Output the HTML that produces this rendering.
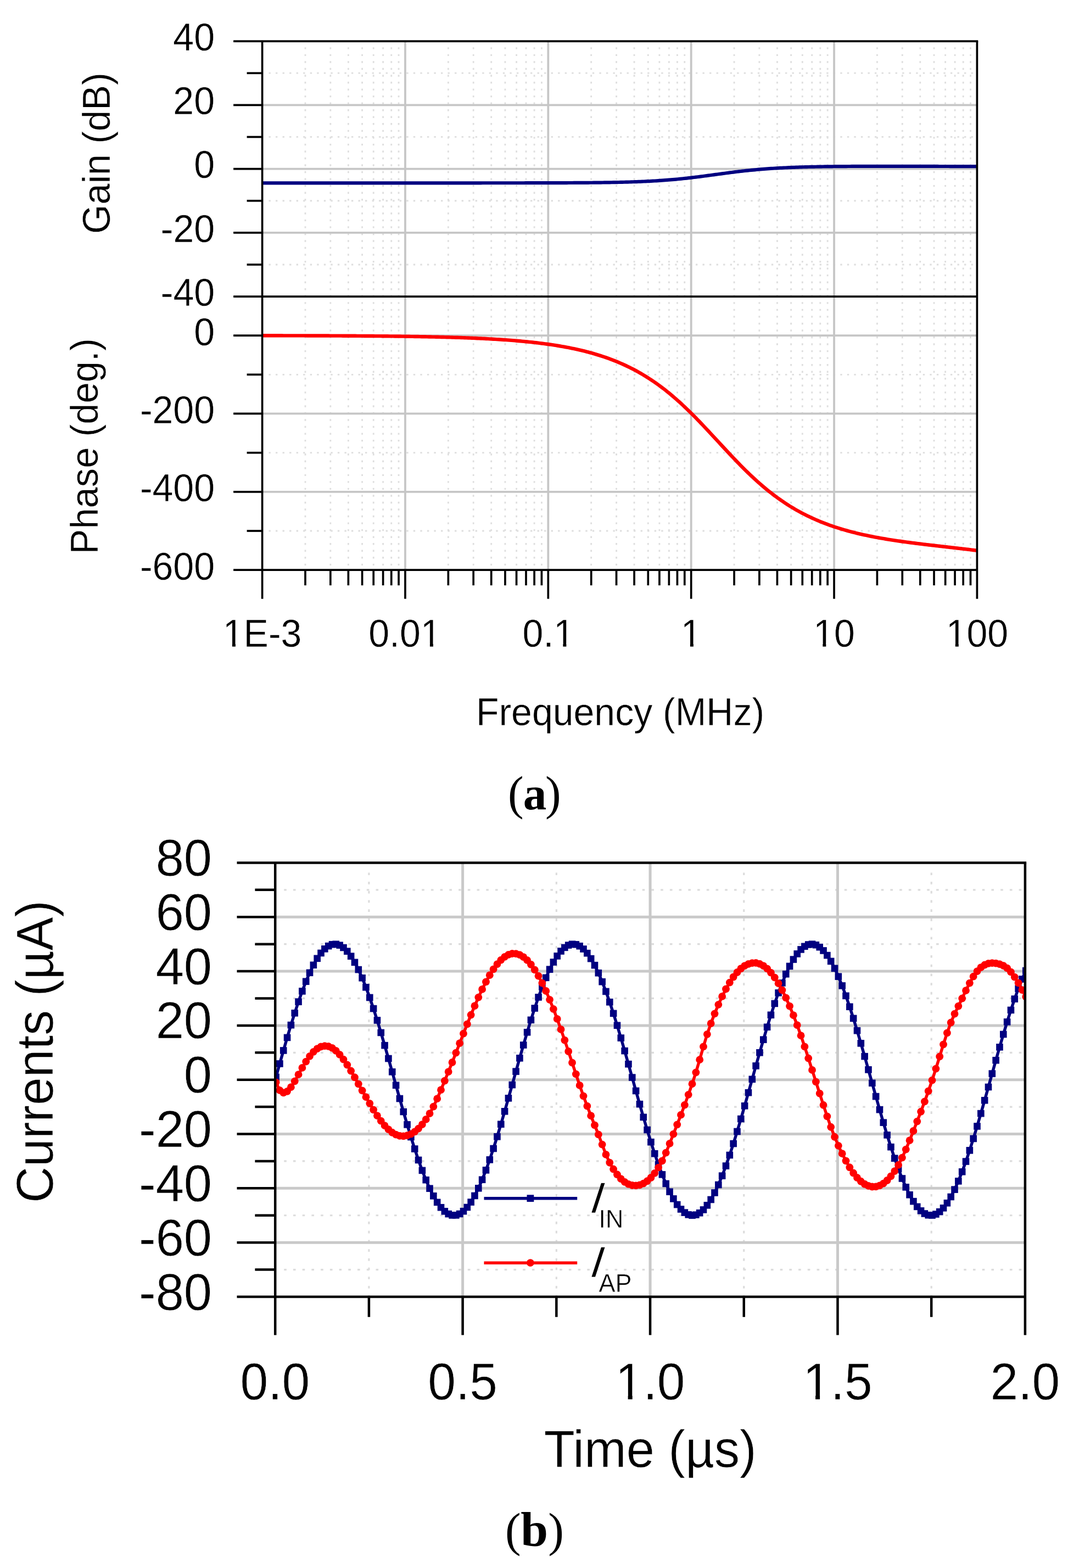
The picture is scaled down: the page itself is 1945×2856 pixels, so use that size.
<!DOCTYPE html>
<html lang="en">
<head>
<meta charset="utf-8">
<title>Figure: frequency response and transient currents</title>
<style>
html,body{margin:0;padding:0;background:#fff;}
body{width:1945px;height:2856px;overflow:hidden;}
svg{display:block;}
</style>
</head>
<body>
<svg width="1945" height="2856" viewBox="0 0 1945 2856">
<rect x="0" y="0" width="1945" height="2856" fill="#ffffff"/>
<g id="top">
<g stroke="#dedede" stroke-width="2.8" stroke-dasharray="3.4 9.14" fill="none">
<line x1="555.98" y1="86.15" x2="555.98" y2="1038.20"/>
<line x1="601.82" y1="86.15" x2="601.82" y2="1038.20"/>
<line x1="634.35" y1="86.15" x2="634.35" y2="1038.20"/>
<line x1="659.58" y1="86.15" x2="659.58" y2="1038.20"/>
<line x1="680.20" y1="86.15" x2="680.20" y2="1038.20"/>
<line x1="697.63" y1="86.15" x2="697.63" y2="1038.20"/>
<line x1="712.73" y1="86.15" x2="712.73" y2="1038.20"/>
<line x1="726.05" y1="86.15" x2="726.05" y2="1038.20"/>
<line x1="816.34" y1="86.15" x2="816.34" y2="1038.20"/>
<line x1="862.18" y1="86.15" x2="862.18" y2="1038.20"/>
<line x1="894.71" y1="86.15" x2="894.71" y2="1038.20"/>
<line x1="919.94" y1="86.15" x2="919.94" y2="1038.20"/>
<line x1="940.56" y1="86.15" x2="940.56" y2="1038.20"/>
<line x1="957.99" y1="86.15" x2="957.99" y2="1038.20"/>
<line x1="973.09" y1="86.15" x2="973.09" y2="1038.20"/>
<line x1="986.41" y1="86.15" x2="986.41" y2="1038.20"/>
<line x1="1076.70" y1="86.15" x2="1076.70" y2="1038.20"/>
<line x1="1122.54" y1="86.15" x2="1122.54" y2="1038.20"/>
<line x1="1155.07" y1="86.15" x2="1155.07" y2="1038.20"/>
<line x1="1180.30" y1="86.15" x2="1180.30" y2="1038.20"/>
<line x1="1200.92" y1="86.15" x2="1200.92" y2="1038.20"/>
<line x1="1218.35" y1="86.15" x2="1218.35" y2="1038.20"/>
<line x1="1233.45" y1="86.15" x2="1233.45" y2="1038.20"/>
<line x1="1246.77" y1="86.15" x2="1246.77" y2="1038.20"/>
<line x1="1337.06" y1="86.15" x2="1337.06" y2="1038.20"/>
<line x1="1382.90" y1="86.15" x2="1382.90" y2="1038.20"/>
<line x1="1415.43" y1="86.15" x2="1415.43" y2="1038.20"/>
<line x1="1440.66" y1="86.15" x2="1440.66" y2="1038.20"/>
<line x1="1461.28" y1="86.15" x2="1461.28" y2="1038.20"/>
<line x1="1478.71" y1="86.15" x2="1478.71" y2="1038.20"/>
<line x1="1493.81" y1="86.15" x2="1493.81" y2="1038.20"/>
<line x1="1507.13" y1="86.15" x2="1507.13" y2="1038.20"/>
<line x1="1597.42" y1="86.15" x2="1597.42" y2="1038.20"/>
<line x1="1643.26" y1="86.15" x2="1643.26" y2="1038.20"/>
<line x1="1675.79" y1="86.15" x2="1675.79" y2="1038.20"/>
<line x1="1701.02" y1="86.15" x2="1701.02" y2="1038.20"/>
<line x1="1721.64" y1="86.15" x2="1721.64" y2="1038.20"/>
<line x1="1739.07" y1="86.15" x2="1739.07" y2="1038.20"/>
<line x1="1754.17" y1="86.15" x2="1754.17" y2="1038.20"/>
<line x1="1767.49" y1="86.15" x2="1767.49" y2="1038.20"/>
<line x1="489.45" y1="133.22" x2="1779.40" y2="133.22"/>
<line x1="489.45" y1="249.47" x2="1779.40" y2="249.47"/>
<line x1="489.45" y1="365.73" x2="1779.40" y2="365.73"/>
<line x1="489.45" y1="481.98" x2="1779.40" y2="481.98"/>
<line x1="489.45" y1="682.28" x2="1779.40" y2="682.28"/>
<line x1="489.45" y1="824.65" x2="1779.40" y2="824.65"/>
<line x1="489.45" y1="967.02" x2="1779.40" y2="967.02"/>
</g>
<g stroke="#c6c6c6" stroke-width="3.8" fill="none">
<line x1="737.96" y1="75.10" x2="737.96" y2="1038.20"/>
<line x1="998.32" y1="75.10" x2="998.32" y2="1038.20"/>
<line x1="1258.68" y1="75.10" x2="1258.68" y2="1038.20"/>
<line x1="1519.04" y1="75.10" x2="1519.04" y2="1038.20"/>
<line x1="477.60" y1="191.35" x2="1779.40" y2="191.35"/>
<line x1="477.60" y1="307.60" x2="1779.40" y2="307.60"/>
<line x1="477.60" y1="423.85" x2="1779.40" y2="423.85"/>
<line x1="477.60" y1="611.10" x2="1779.40" y2="611.10"/>
<line x1="477.60" y1="753.47" x2="1779.40" y2="753.47"/>
<line x1="477.60" y1="895.83" x2="1779.40" y2="895.83"/>
</g>
<polyline points="477.60,333.29 480.86,333.29 484.13,333.29 487.39,333.29 490.65,333.29 493.91,333.29 497.18,333.29 500.44,333.29 503.70,333.29 506.96,333.29 510.23,333.29 513.49,333.29 516.75,333.29 520.01,333.29 523.28,333.29 526.54,333.29 529.80,333.29 533.07,333.29 536.33,333.29 539.59,333.29 542.85,333.29 546.12,333.29 549.38,333.29 552.64,333.29 555.90,333.29 559.17,333.29 562.43,333.29 565.69,333.29 568.95,333.29 572.22,333.29 575.48,333.29 578.74,333.29 582.01,333.29 585.27,333.29 588.53,333.29 591.79,333.29 595.06,333.29 598.32,333.29 601.58,333.29 604.84,333.29 608.11,333.29 611.37,333.29 614.63,333.29 617.89,333.29 621.16,333.29 624.42,333.29 627.68,333.29 630.94,333.29 634.21,333.29 637.47,333.29 640.73,333.29 644.00,333.29 647.26,333.29 650.52,333.29 653.78,333.29 657.05,333.29 660.31,333.29 663.57,333.29 666.83,333.29 670.10,333.29 673.36,333.29 676.62,333.29 679.88,333.29 683.15,333.29 686.41,333.29 689.67,333.29 692.94,333.29 696.20,333.29 699.46,333.29 702.72,333.29 705.99,333.29 709.25,333.29 712.51,333.29 715.77,333.29 719.04,333.29 722.30,333.29 725.56,333.29 728.82,333.29 732.09,333.29 735.35,333.29 738.61,333.29 741.88,333.29 745.14,333.29 748.40,333.29 751.66,333.29 754.93,333.29 758.19,333.29 761.45,333.29 764.71,333.29 767.98,333.29 771.24,333.29 774.50,333.29 777.76,333.29 781.03,333.29 784.29,333.29 787.55,333.29 790.82,333.29 794.08,333.29 797.34,333.29 800.60,333.29 803.87,333.29 807.13,333.29 810.39,333.29 813.65,333.29 816.92,333.29 820.18,333.29 823.44,333.28 826.70,333.28 829.97,333.28 833.23,333.28 836.49,333.28 839.75,333.28 843.02,333.28 846.28,333.28 849.54,333.28 852.81,333.28 856.07,333.28 859.33,333.28 862.59,333.28 865.86,333.28 869.12,333.28 872.38,333.28 875.64,333.28 878.91,333.27 882.17,333.27 885.43,333.27 888.69,333.27 891.96,333.27 895.22,333.27 898.48,333.27 901.75,333.27 905.01,333.26 908.27,333.26 911.53,333.26 914.80,333.26 918.06,333.26 921.32,333.26 924.58,333.25 927.85,333.25 931.11,333.25 934.37,333.25 937.63,333.24 940.90,333.24 944.16,333.24 947.42,333.23 950.69,333.23 953.95,333.23 957.21,333.22 960.47,333.22 963.74,333.22 967.00,333.21 970.26,333.21 973.52,333.20 976.79,333.20 980.05,333.19 983.31,333.18 986.57,333.18 989.84,333.17 993.10,333.16 996.36,333.16 999.63,333.15 1002.89,333.14 1006.15,333.13 1009.41,333.12 1012.68,333.11 1015.94,333.10 1019.20,333.09 1022.46,333.08 1025.73,333.06 1028.99,333.05 1032.25,333.04 1035.51,333.02 1038.78,333.01 1042.04,332.99 1045.30,332.97 1048.56,332.95 1051.83,332.93 1055.09,332.91 1058.35,332.89 1061.62,332.87 1064.88,332.84 1068.14,332.82 1071.40,332.79 1074.67,332.76 1077.93,332.73 1081.19,332.70 1084.45,332.66 1087.72,332.62 1090.98,332.58 1094.24,332.54 1097.50,332.50 1100.77,332.46 1104.03,332.41 1107.29,332.36 1110.56,332.30 1113.82,332.25 1117.08,332.19 1120.34,332.12 1123.61,332.06 1126.87,331.99 1130.13,331.91 1133.39,331.83 1136.66,331.75 1139.92,331.66 1143.18,331.57 1146.44,331.48 1149.71,331.38 1152.97,331.27 1156.23,331.16 1159.50,331.04 1162.76,330.92 1166.02,330.79 1169.28,330.65 1172.55,330.51 1175.81,330.36 1179.07,330.20 1182.33,330.04 1185.60,329.87 1188.86,329.69 1192.12,329.50 1195.38,329.30 1198.65,329.10 1201.91,328.89 1205.17,328.66 1208.44,328.43 1211.70,328.19 1214.96,327.94 1218.22,327.68 1221.49,327.41 1224.75,327.13 1228.01,326.84 1231.27,326.54 1234.54,326.23 1237.80,325.92 1241.06,325.59 1244.32,325.25 1247.59,324.90 1250.85,324.55 1254.11,324.18 1257.37,323.81 1260.64,323.42 1263.90,323.03 1267.16,322.63 1270.43,322.23 1273.69,321.82 1276.95,321.40 1280.21,320.98 1283.48,320.55 1286.74,320.11 1290.00,319.68 1293.26,319.24 1296.53,318.80 1299.79,318.36 1303.05,317.91 1306.31,317.47 1309.58,317.03 1312.84,316.58 1316.10,316.15 1319.37,315.71 1322.63,315.28 1325.89,314.85 1329.15,314.43 1332.42,314.01 1335.68,313.60 1338.94,313.19 1342.20,312.79 1345.47,312.40 1348.73,312.02 1351.99,311.65 1355.25,311.28 1358.52,310.92 1361.78,310.58 1365.04,310.24 1368.31,309.91 1371.57,309.59 1374.83,309.29 1378.09,308.99 1381.36,308.70 1384.62,308.42 1387.88,308.15 1391.14,307.89 1394.41,307.64 1397.67,307.40 1400.93,307.17 1404.19,306.95 1407.46,306.73 1410.72,306.53 1413.98,306.33 1417.25,306.15 1420.51,305.97 1423.77,305.80 1427.03,305.63 1430.30,305.48 1433.56,305.33 1436.82,305.19 1440.08,305.05 1443.35,304.92 1446.61,304.80 1449.87,304.68 1453.13,304.57 1456.40,304.47 1459.66,304.37 1462.92,304.27 1466.18,304.18 1469.45,304.09 1472.71,304.01 1475.97,303.93 1479.24,303.86 1482.50,303.79 1485.76,303.73 1489.02,303.66 1492.29,303.61 1495.55,303.55 1498.81,303.50 1502.07,303.45 1505.34,303.40 1508.60,303.36 1511.86,303.31 1515.12,303.28 1518.39,303.24 1521.65,303.20 1524.91,303.17 1528.18,303.14 1531.44,303.11 1534.70,303.08 1537.96,303.06 1541.23,303.03 1544.49,303.01 1547.75,302.99 1551.01,302.97 1554.28,302.95 1557.54,302.94 1560.80,302.92 1564.06,302.91 1567.33,302.89 1570.59,302.88 1573.85,302.87 1577.12,302.86 1580.38,302.85 1583.64,302.84 1586.90,302.83 1590.17,302.83 1593.43,302.82 1596.69,302.82 1599.95,302.81 1603.22,302.81 1606.48,302.81 1609.74,302.80 1613.00,302.80 1616.27,302.80 1619.53,302.80 1622.79,302.80 1626.06,302.80 1629.32,302.80 1632.58,302.81 1635.84,302.81 1639.11,302.81 1642.37,302.82 1645.63,302.82 1648.89,302.83 1652.16,302.83 1655.42,302.84 1658.68,302.84 1661.94,302.85 1665.21,302.86 1668.47,302.86 1671.73,302.87 1674.99,302.88 1678.26,302.89 1681.52,302.89 1684.78,302.90 1688.05,302.91 1691.31,302.92 1694.57,302.93 1697.83,302.94 1701.10,302.95 1704.36,302.96 1707.62,302.97 1710.88,302.98 1714.15,302.99 1717.41,303.00 1720.67,303.00 1723.93,303.01 1727.20,303.02 1730.46,303.03 1733.72,303.04 1736.99,303.05 1740.25,303.06 1743.51,303.07 1746.77,303.08 1750.04,303.09 1753.30,303.09 1756.56,303.10 1759.82,303.11 1763.09,303.12 1766.35,303.13 1769.61,303.13 1772.87,303.14 1776.14,303.15 1779.40,303.15" fill="none" stroke="#000080" stroke-width="6.2" stroke-linejoin="round"/>
<polyline points="477.60,611.26 480.86,611.26 484.13,611.27 487.39,611.27 490.65,611.28 493.91,611.28 497.18,611.29 500.44,611.30 503.70,611.30 506.96,611.31 510.23,611.31 513.49,611.32 516.75,611.33 520.01,611.33 523.28,611.34 526.54,611.35 529.80,611.35 533.07,611.36 536.33,611.37 539.59,611.38 542.85,611.38 546.12,611.39 549.38,611.40 552.64,611.41 555.90,611.42 559.17,611.43 562.43,611.44 565.69,611.45 568.95,611.46 572.22,611.47 575.48,611.48 578.74,611.49 582.01,611.50 585.27,611.51 588.53,611.53 591.79,611.54 595.06,611.55 598.32,611.56 601.58,611.58 604.84,611.59 608.11,611.61 611.37,611.62 614.63,611.64 617.89,611.65 621.16,611.67 624.42,611.68 627.68,611.70 630.94,611.72 634.21,611.74 637.47,611.76 640.73,611.78 644.00,611.80 647.26,611.82 650.52,611.84 653.78,611.86 657.05,611.88 660.31,611.90 663.57,611.93 666.83,611.95 670.10,611.98 673.36,612.00 676.62,612.03 679.88,612.06 683.15,612.08 686.41,612.11 689.67,612.14 692.94,612.17 696.20,612.20 699.46,612.24 702.72,612.27 705.99,612.30 709.25,612.34 712.51,612.37 715.77,612.41 719.04,612.45 722.30,612.49 725.56,612.53 728.82,612.57 732.09,612.62 735.35,612.66 738.61,612.71 741.88,612.75 745.14,612.80 748.40,612.85 751.66,612.90 754.93,612.95 758.19,613.01 761.45,613.06 764.71,613.12 767.98,613.18 771.24,613.24 774.50,613.31 777.76,613.37 781.03,613.44 784.29,613.50 787.55,613.58 790.82,613.65 794.08,613.72 797.34,613.80 800.60,613.88 803.87,613.96 807.13,614.04 810.39,614.13 813.65,614.22 816.92,614.31 820.18,614.40 823.44,614.50 826.70,614.60 829.97,614.70 833.23,614.81 836.49,614.92 839.75,615.03 843.02,615.14 846.28,615.26 849.54,615.38 852.81,615.51 856.07,615.64 859.33,615.77 862.59,615.91 865.86,616.05 869.12,616.19 872.38,616.34 875.64,616.49 878.91,616.65 882.17,616.81 885.43,616.98 888.69,617.15 891.96,617.33 895.22,617.51 898.48,617.70 901.75,617.89 905.01,618.09 908.27,618.30 911.53,618.51 914.80,618.72 918.06,618.95 921.32,619.18 924.58,619.41 927.85,619.66 931.11,619.91 934.37,620.16 937.63,620.43 940.90,620.70 944.16,620.98 947.42,621.27 950.69,621.57 953.95,621.88 957.21,622.19 960.47,622.51 963.74,622.85 967.00,623.19 970.26,623.54 973.52,623.91 976.79,624.28 980.05,624.67 983.31,625.06 986.57,625.47 989.84,625.89 993.10,626.32 996.36,626.77 999.63,627.23 1002.89,627.70 1006.15,628.18 1009.41,628.68 1012.68,629.19 1015.94,629.72 1019.20,630.26 1022.46,630.82 1025.73,631.40 1028.99,631.99 1032.25,632.60 1035.51,633.22 1038.78,633.87 1042.04,634.53 1045.30,635.21 1048.56,635.91 1051.83,636.63 1055.09,637.37 1058.35,638.14 1061.62,638.92 1064.88,639.73 1068.14,640.56 1071.40,641.41 1074.67,642.29 1077.93,643.19 1081.19,644.12 1084.45,645.08 1087.72,646.06 1090.98,647.07 1094.24,648.10 1097.50,649.17 1100.77,650.26 1104.03,651.39 1107.29,652.55 1110.56,653.74 1113.82,654.96 1117.08,656.22 1120.34,657.51 1123.61,658.83 1126.87,660.19 1130.13,661.59 1133.39,663.02 1136.66,664.50 1139.92,666.01 1143.18,667.56 1146.44,669.15 1149.71,670.79 1152.97,672.46 1156.23,674.18 1159.50,675.94 1162.76,677.75 1166.02,679.60 1169.28,681.50 1172.55,683.45 1175.81,685.44 1179.07,687.48 1182.33,689.57 1185.60,691.70 1188.86,693.89 1192.12,696.13 1195.38,698.41 1198.65,700.75 1201.91,703.14 1205.17,705.57 1208.44,708.06 1211.70,710.60 1214.96,713.19 1218.22,715.84 1221.49,718.53 1224.75,721.27 1228.01,724.06 1231.27,726.90 1234.54,729.79 1237.80,732.73 1241.06,735.71 1244.32,738.74 1247.59,741.82 1250.85,744.94 1254.11,748.09 1257.37,751.29 1260.64,754.53 1263.90,757.80 1267.16,761.11 1270.43,764.45 1273.69,767.82 1276.95,771.22 1280.21,774.65 1283.48,778.10 1286.74,781.57 1290.00,785.05 1293.26,788.56 1296.53,792.07 1299.79,795.59 1303.05,799.13 1306.31,802.66 1309.58,806.19 1312.84,809.73 1316.10,813.26 1319.37,816.78 1322.63,820.29 1325.89,823.78 1329.15,827.26 1332.42,830.72 1335.68,834.16 1338.94,837.57 1342.20,840.96 1345.47,844.32 1348.73,847.65 1351.99,850.94 1355.25,854.20 1358.52,857.42 1361.78,860.60 1365.04,863.74 1368.31,866.84 1371.57,869.90 1374.83,872.91 1378.09,875.88 1381.36,878.79 1384.62,881.67 1387.88,884.49 1391.14,887.26 1394.41,889.98 1397.67,892.66 1400.93,895.28 1404.19,897.85 1407.46,900.38 1410.72,902.85 1413.98,905.27 1417.25,907.64 1420.51,909.96 1423.77,912.23 1427.03,914.45 1430.30,916.63 1433.56,918.75 1436.82,920.83 1440.08,922.85 1443.35,924.84 1446.61,926.77 1449.87,928.66 1453.13,930.50 1456.40,932.30 1459.66,934.06 1462.92,935.78 1466.18,937.45 1469.45,939.08 1472.71,940.67 1475.97,942.22 1479.24,943.73 1482.50,945.21 1485.76,946.64 1489.02,948.04 1492.29,949.41 1495.55,950.74 1498.81,952.04 1502.07,953.30 1505.34,954.53 1508.60,955.74 1511.86,956.90 1515.12,958.04 1518.39,959.16 1521.65,960.24 1524.91,961.29 1528.18,962.32 1531.44,963.32 1534.70,964.30 1537.96,965.25 1541.23,966.18 1544.49,967.08 1547.75,967.97 1551.01,968.83 1554.28,969.66 1557.54,970.48 1560.80,971.28 1564.06,972.06 1567.33,972.82 1570.59,973.56 1573.85,974.28 1577.12,974.98 1580.38,975.67 1583.64,976.35 1586.90,977.00 1590.17,977.65 1593.43,978.27 1596.69,978.89 1599.95,979.49 1603.22,980.07 1606.48,980.65 1609.74,981.21 1613.00,981.76 1616.27,982.30 1619.53,982.83 1622.79,983.34 1626.06,983.85 1629.32,984.35 1632.58,984.84 1635.84,985.32 1639.11,985.79 1642.37,986.25 1645.63,986.71 1648.89,987.16 1652.16,987.60 1655.42,988.03 1658.68,988.46 1661.94,988.89 1665.21,989.30 1668.47,989.72 1671.73,990.12 1674.99,990.53 1678.26,990.92 1681.52,991.32 1684.78,991.71 1688.05,992.10 1691.31,992.48 1694.57,992.86 1697.83,993.24 1701.10,993.62 1704.36,994.00 1707.62,994.37 1710.88,994.75 1714.15,995.12 1717.41,995.49 1720.67,995.86 1723.93,996.23 1727.20,996.60 1730.46,996.98 1733.72,997.35 1736.99,997.72 1740.25,998.10 1743.51,998.47 1746.77,998.85 1750.04,999.23 1753.30,999.61 1756.56,1000.00 1759.82,1000.39 1763.09,1000.78 1766.35,1001.17 1769.61,1001.57 1772.87,1001.97 1776.14,1002.38 1779.40,1002.79" fill="none" stroke="#ff0000" stroke-width="6.4" stroke-linejoin="round"/>
<g stroke="#000" stroke-width="3.7" fill="none" stroke-linecap="butt">
<line x1="425.10" y1="75.1" x2="1781.25" y2="75.1"/>
<line x1="425.10" y1="540.1" x2="1779.40" y2="540.1"/>
<line x1="425.10" y1="1038.2" x2="1779.40" y2="1038.2"/>
<line x1="477.6" y1="75.1" x2="477.6" y2="1090.70"/>
<line x1="1779.4" y1="75.1" x2="1779.4" y2="1090.70"/>
<line x1="425.10" y1="191.35" x2="477.6" y2="191.35"/>
<line x1="425.10" y1="307.60" x2="477.6" y2="307.60"/>
<line x1="425.10" y1="423.85" x2="477.6" y2="423.85"/>
<line x1="449.60" y1="133.22" x2="477.6" y2="133.22"/>
<line x1="449.60" y1="249.47" x2="477.6" y2="249.47"/>
<line x1="449.60" y1="365.73" x2="477.6" y2="365.73"/>
<line x1="449.60" y1="481.98" x2="477.6" y2="481.98"/>
<line x1="425.10" y1="611.10" x2="477.6" y2="611.10"/>
<line x1="425.10" y1="753.47" x2="477.6" y2="753.47"/>
<line x1="425.10" y1="895.83" x2="477.6" y2="895.83"/>
<line x1="449.60" y1="682.28" x2="477.6" y2="682.28"/>
<line x1="449.60" y1="824.65" x2="477.6" y2="824.65"/>
<line x1="449.60" y1="967.02" x2="477.6" y2="967.02"/>
<line x1="737.96" y1="1038.2" x2="737.96" y2="1090.70"/>
<line x1="998.32" y1="1038.2" x2="998.32" y2="1090.70"/>
<line x1="1258.68" y1="1038.2" x2="1258.68" y2="1090.70"/>
<line x1="1519.04" y1="1038.2" x2="1519.04" y2="1090.70"/>
<line x1="555.98" y1="1038.2" x2="555.98" y2="1066.20"/>
<line x1="601.82" y1="1038.2" x2="601.82" y2="1066.20"/>
<line x1="634.35" y1="1038.2" x2="634.35" y2="1066.20"/>
<line x1="659.58" y1="1038.2" x2="659.58" y2="1066.20"/>
<line x1="680.20" y1="1038.2" x2="680.20" y2="1066.20"/>
<line x1="697.63" y1="1038.2" x2="697.63" y2="1066.20"/>
<line x1="712.73" y1="1038.2" x2="712.73" y2="1066.20"/>
<line x1="726.05" y1="1038.2" x2="726.05" y2="1066.20"/>
<line x1="816.34" y1="1038.2" x2="816.34" y2="1066.20"/>
<line x1="862.18" y1="1038.2" x2="862.18" y2="1066.20"/>
<line x1="894.71" y1="1038.2" x2="894.71" y2="1066.20"/>
<line x1="919.94" y1="1038.2" x2="919.94" y2="1066.20"/>
<line x1="940.56" y1="1038.2" x2="940.56" y2="1066.20"/>
<line x1="957.99" y1="1038.2" x2="957.99" y2="1066.20"/>
<line x1="973.09" y1="1038.2" x2="973.09" y2="1066.20"/>
<line x1="986.41" y1="1038.2" x2="986.41" y2="1066.20"/>
<line x1="1076.70" y1="1038.2" x2="1076.70" y2="1066.20"/>
<line x1="1122.54" y1="1038.2" x2="1122.54" y2="1066.20"/>
<line x1="1155.07" y1="1038.2" x2="1155.07" y2="1066.20"/>
<line x1="1180.30" y1="1038.2" x2="1180.30" y2="1066.20"/>
<line x1="1200.92" y1="1038.2" x2="1200.92" y2="1066.20"/>
<line x1="1218.35" y1="1038.2" x2="1218.35" y2="1066.20"/>
<line x1="1233.45" y1="1038.2" x2="1233.45" y2="1066.20"/>
<line x1="1246.77" y1="1038.2" x2="1246.77" y2="1066.20"/>
<line x1="1337.06" y1="1038.2" x2="1337.06" y2="1066.20"/>
<line x1="1382.90" y1="1038.2" x2="1382.90" y2="1066.20"/>
<line x1="1415.43" y1="1038.2" x2="1415.43" y2="1066.20"/>
<line x1="1440.66" y1="1038.2" x2="1440.66" y2="1066.20"/>
<line x1="1461.28" y1="1038.2" x2="1461.28" y2="1066.20"/>
<line x1="1478.71" y1="1038.2" x2="1478.71" y2="1066.20"/>
<line x1="1493.81" y1="1038.2" x2="1493.81" y2="1066.20"/>
<line x1="1507.13" y1="1038.2" x2="1507.13" y2="1066.20"/>
<line x1="1597.42" y1="1038.2" x2="1597.42" y2="1066.20"/>
<line x1="1643.26" y1="1038.2" x2="1643.26" y2="1066.20"/>
<line x1="1675.79" y1="1038.2" x2="1675.79" y2="1066.20"/>
<line x1="1701.02" y1="1038.2" x2="1701.02" y2="1066.20"/>
<line x1="1721.64" y1="1038.2" x2="1721.64" y2="1066.20"/>
<line x1="1739.07" y1="1038.2" x2="1739.07" y2="1066.20"/>
<line x1="1754.17" y1="1038.2" x2="1754.17" y2="1066.20"/>
<line x1="1767.49" y1="1038.2" x2="1767.49" y2="1066.20"/>
</g>
<g font-family='"Liberation Sans", Arial, Helvetica, sans-serif' font-size="68" fill="#000">
<text transform="translate(391.00,91.90) scale(1.0,1.03)" text-anchor="end" font-size="68" stroke="#fff" stroke-width="0.4" stroke-linejoin="round">40</text>
<text transform="translate(391.00,208.15) scale(1.0,1.03)" text-anchor="end" font-size="68" stroke="#fff" stroke-width="0.4" stroke-linejoin="round">20</text>
<text transform="translate(391.00,324.40) scale(1.0,1.03)" text-anchor="end" font-size="68" stroke="#fff" stroke-width="0.4" stroke-linejoin="round">0</text>
<text transform="translate(391.00,440.65) scale(1.0,1.03)" text-anchor="end" font-size="68" stroke="#fff" stroke-width="0.4" stroke-linejoin="round">-20</text>
<text transform="translate(391.00,556.90) scale(1.0,1.03)" text-anchor="end" font-size="68" stroke="#fff" stroke-width="0.4" stroke-linejoin="round">-40</text>
<text transform="translate(391.00,628.50) scale(1.0,1.03)" text-anchor="end" font-size="68" stroke="#fff" stroke-width="0.4" stroke-linejoin="round">0</text>
<text transform="translate(391.00,770.87) scale(1.0,1.03)" text-anchor="end" font-size="68" stroke="#fff" stroke-width="0.4" stroke-linejoin="round">-200</text>
<text transform="translate(391.00,913.23) scale(1.0,1.03)" text-anchor="end" font-size="68" stroke="#fff" stroke-width="0.4" stroke-linejoin="round">-400</text>
<text transform="translate(391.00,1055.60) scale(1.0,1.03)" text-anchor="end" font-size="68" stroke="#fff" stroke-width="0.4" stroke-linejoin="round">-600</text>
<g transform="translate(477.60,1177.50) scale(1.0,1.03)">
<text text-anchor="middle" font-size="68" stroke="#fff" stroke-width="0.4" stroke-linejoin="round">1E-3</text>
<rect x="-67.83" y="-5.64" width="13.12" height="6.31" fill="#fff"/>
<rect x="-48.71" y="-5.64" width="12.58" height="6.31" fill="#fff"/>
</g>
<g transform="translate(737.46,1177.50) scale(1.0,1.03)">
<text text-anchor="middle" font-size="68" stroke="#fff" stroke-width="0.4" stroke-linejoin="round">0.01</text>
<rect x="32.34" y="-5.64" width="13.12" height="6.31" fill="#fff"/>
<rect x="51.46" y="-5.64" width="12.58" height="6.31" fill="#fff"/>
</g>
<g transform="translate(998.82,1177.50) scale(1.0,1.03)">
<text text-anchor="middle" font-size="68" stroke="#fff" stroke-width="0.4" stroke-linejoin="round">0.1</text>
<rect x="13.43" y="-5.64" width="13.12" height="6.31" fill="#fff"/>
<rect x="32.56" y="-5.64" width="12.58" height="6.31" fill="#fff"/>
</g>
<g transform="translate(1258.68,1177.50) scale(1.0,1.03)">
<text text-anchor="middle" font-size="68" stroke="#fff" stroke-width="0.4" stroke-linejoin="round">1</text>
<rect x="-14.92" y="-5.64" width="13.12" height="6.31" fill="#fff"/>
<rect x="4.20" y="-5.64" width="12.58" height="6.31" fill="#fff"/>
</g>
<g transform="translate(1519.04,1177.50) scale(1.0,1.03)">
<text text-anchor="middle" font-size="68" stroke="#fff" stroke-width="0.4" stroke-linejoin="round">10</text>
<rect x="-33.83" y="-5.64" width="13.12" height="6.31" fill="#fff"/>
<rect x="-14.71" y="-5.64" width="12.58" height="6.31" fill="#fff"/>
</g>
<g transform="translate(1779.40,1177.50) scale(1.0,1.03)">
<text text-anchor="middle" font-size="68" stroke="#fff" stroke-width="0.4" stroke-linejoin="round">100</text>
<rect x="-52.74" y="-5.64" width="13.12" height="6.31" fill="#fff"/>
<rect x="-33.62" y="-5.64" width="12.58" height="6.31" fill="#fff"/>
</g>
<text transform="translate(1129.50,1320.80) scale(1.0,1.03)" text-anchor="middle" font-size="68" stroke="#fff" stroke-width="0.4" stroke-linejoin="round">Frequency (MHz)</text>
<text transform="translate(199.50,279.00) rotate(-90) scale(1.01,1.03)" text-anchor="middle" font-size="68" stroke="#fff" stroke-width="0.4" stroke-linejoin="round">Gain (dB)</text>
<text transform="translate(178.00,812.80) rotate(-90) scale(1.01,1.03)" text-anchor="middle" font-size="68" stroke="#fff" stroke-width="0.4" stroke-linejoin="round">Phase (deg.)</text>
</g>
</g>
<text y="1473.7" font-family='"Liberation Serif", "DejaVu Serif", serif' font-size="86" fill="#000"><tspan x="925.1">(</tspan><tspan x="952.8" font-size="85" font-weight="bold">a</tspan><tspan x="993.1">)</tspan></text>
<g id="bottom">
<g stroke="#dcdcdc" stroke-width="3.2" stroke-dasharray="4.6 12.13" fill="none">
<line x1="671.91" y1="1589.38" x2="671.91" y2="2362.00"/>
<line x1="1013.34" y1="1589.38" x2="1013.34" y2="2362.00"/>
<line x1="1354.76" y1="1589.38" x2="1354.76" y2="2362.00"/>
<line x1="1696.19" y1="1589.38" x2="1696.19" y2="2362.00"/>
<line x1="517.21" y1="2312.59" x2="1866.90" y2="2312.59"/>
<line x1="517.21" y1="2213.76" x2="1866.90" y2="2213.76"/>
<line x1="517.21" y1="2114.94" x2="1866.90" y2="2114.94"/>
<line x1="517.21" y1="2016.11" x2="1866.90" y2="2016.11"/>
<line x1="517.21" y1="1917.29" x2="1866.90" y2="1917.29"/>
<line x1="517.21" y1="1818.46" x2="1866.90" y2="1818.46"/>
<line x1="517.21" y1="1719.64" x2="1866.90" y2="1719.64"/>
<line x1="517.21" y1="1620.81" x2="1866.90" y2="1620.81"/>
</g>
<g stroke="#c9c9c9" stroke-width="5.0" fill="none">
<line x1="842.62" y1="1571.40" x2="842.62" y2="2362.00"/>
<line x1="1184.05" y1="1571.40" x2="1184.05" y2="2362.00"/>
<line x1="1525.48" y1="1571.40" x2="1525.48" y2="2362.00"/>
<line x1="501.20" y1="2263.18" x2="1866.90" y2="2263.18"/>
<line x1="501.20" y1="2164.35" x2="1866.90" y2="2164.35"/>
<line x1="501.20" y1="2065.53" x2="1866.90" y2="2065.53"/>
<line x1="501.20" y1="1966.70" x2="1866.90" y2="1966.70"/>
<line x1="501.20" y1="1867.88" x2="1866.90" y2="1867.88"/>
<line x1="501.20" y1="1769.05" x2="1866.90" y2="1769.05"/>
<line x1="501.20" y1="1670.23" x2="1866.90" y2="1670.23"/>
</g>
<clipPath id="bclip"><rect x="501.2" y="1571.4" width="1367.7" height="790.5999999999999"/></clipPath>
<g clip-path="url(#bclip)">
<polyline points="501.20,1966.70 502.57,1961.82 509.39,1937.47 516.22,1913.41 523.05,1889.87 529.88,1867.08 536.71,1845.26 543.54,1824.62 550.37,1805.37 557.19,1787.70 564.02,1771.77 570.85,1757.74 577.68,1745.76 584.51,1735.93 591.34,1728.35 598.16,1723.10 604.99,1720.22 611.82,1719.75 618.65,1721.69 625.48,1726.02 632.31,1732.70 639.14,1741.66 645.96,1752.82 652.79,1766.06 659.62,1781.26 666.45,1798.27 673.28,1816.93 680.11,1837.05 686.94,1858.43 693.76,1880.87 700.59,1904.14 707.42,1928.03 714.25,1952.29 721.08,1976.70 727.91,2001.00 734.73,2024.98 741.56,2048.38 748.39,2070.99 755.22,2092.57 762.05,2112.93 768.88,2131.87 775.71,2149.19 782.53,2164.73 789.36,2178.34 796.19,2189.88 803.02,2199.25 809.85,2206.35 816.68,2211.10 823.51,2213.48 830.33,2213.44 837.16,2211.00 843.99,2206.17 850.82,2199.01 857.65,2189.58 864.48,2177.98 871.30,2164.31 878.13,2148.72 884.96,2131.35 891.79,2112.37 898.62,2091.97 905.45,2070.35 912.28,2047.72 919.10,2024.29 925.93,2000.31 932.76,1976.00 939.59,1951.59 946.42,1927.34 953.25,1903.46 960.08,1880.21 966.90,1857.80 973.73,1836.45 980.56,1816.37 987.39,1797.76 994.22,1780.80 1001.05,1765.65 1007.87,1752.47 1014.70,1741.37 1021.53,1732.47 1028.36,1725.86 1035.19,1721.60 1042.02,1719.73 1048.85,1720.27 1055.67,1723.21 1062.50,1728.53 1069.33,1736.18 1076.16,1746.07 1082.99,1758.12 1089.82,1772.20 1096.65,1788.18 1103.47,1805.90 1110.30,1825.19 1117.13,1845.87 1123.96,1867.72 1130.79,1890.53 1137.62,1914.09 1144.44,1938.17 1151.27,1962.52 1158.10,1986.91 1164.93,2011.11 1171.76,2034.87 1178.59,2057.96 1185.42,2080.17 1192.24,2101.27 1199.07,2121.06 1205.90,2139.34 1212.73,2155.93 1219.56,2170.68 1226.39,2183.44 1233.22,2194.08 1240.04,2202.51 1246.87,2208.63 1253.70,2212.39 1260.53,2213.76 1267.36,2212.71 1274.19,2209.27 1281.01,2203.45 1287.84,2195.33 1294.67,2184.98 1301.50,2172.49 1308.33,2158.00 1315.16,2141.64 1321.99,2123.58 1328.81,2103.98 1335.64,2083.04 1342.47,2060.97 1349.30,2037.98 1356.13,2014.30 1362.96,1990.14 1369.79,1965.77 1376.61,1941.39 1383.44,1917.27 1390.27,1893.63 1397.10,1870.70 1403.93,1848.71 1410.76,1827.87 1417.58,1808.38 1424.41,1790.44 1431.24,1774.22 1438.07,1759.88 1444.90,1747.55 1451.73,1737.37 1458.56,1729.42 1465.38,1723.79 1472.21,1720.52 1479.04,1719.66 1485.87,1721.21 1492.70,1725.16 1499.53,1731.46 1506.36,1740.06 1513.18,1750.87 1520.01,1763.78 1526.84,1778.68 1533.67,1795.41 1540.50,1813.81 1547.33,1833.70 1554.15,1854.89 1560.98,1877.18 1567.81,1900.33 1574.64,1924.13 1581.47,1948.35 1588.30,1972.75 1595.13,1997.09 1601.95,2021.13 1608.78,2044.64 1615.61,2067.39 1622.44,2089.16 1629.27,2109.73 1636.10,2128.91 1642.93,2146.51 1649.75,2162.35 1656.58,2176.28 1663.41,2188.16 1670.24,2197.89 1677.07,2205.36 1683.90,2210.50 1690.72,2213.26 1697.55,2213.61 1704.38,2211.56 1711.21,2207.12 1718.04,2200.33 1724.87,2191.26 1731.70,2180.00 1738.52,2166.66 1745.35,2151.36 1752.18,2134.27 1759.01,2115.54 1765.84,2095.36 1772.67,2073.92 1779.50,2051.44 1786.32,2028.13 1793.15,2004.22 1799.98,1979.94 1806.81,1955.54 1813.64,1931.24 1820.47,1907.29 1827.29,1883.92 1834.12,1861.36 1840.95,1839.82 1847.78,1819.52 1854.61,1800.66 1861.44,1783.42 1868.27,1767.97" fill="none" stroke="#000080" stroke-width="5.4" stroke-linejoin="round"/>
<g fill="#000080">
<rect x="496.27" y="1955.52" width="12.6" height="12.6"/>
<rect x="503.09" y="1931.17" width="12.6" height="12.6"/>
<rect x="509.92" y="1907.11" width="12.6" height="12.6"/>
<rect x="516.75" y="1883.57" width="12.6" height="12.6"/>
<rect x="523.58" y="1860.78" width="12.6" height="12.6"/>
<rect x="530.41" y="1838.96" width="12.6" height="12.6"/>
<rect x="537.24" y="1818.32" width="12.6" height="12.6"/>
<rect x="544.07" y="1799.07" width="12.6" height="12.6"/>
<rect x="550.89" y="1781.40" width="12.6" height="12.6"/>
<rect x="557.72" y="1765.47" width="12.6" height="12.6"/>
<rect x="564.55" y="1751.44" width="12.6" height="12.6"/>
<rect x="571.38" y="1739.46" width="12.6" height="12.6"/>
<rect x="578.21" y="1729.63" width="12.6" height="12.6"/>
<rect x="585.04" y="1722.05" width="12.6" height="12.6"/>
<rect x="591.86" y="1716.80" width="12.6" height="12.6"/>
<rect x="598.69" y="1713.92" width="12.6" height="12.6"/>
<rect x="605.52" y="1713.45" width="12.6" height="12.6"/>
<rect x="612.35" y="1715.39" width="12.6" height="12.6"/>
<rect x="619.18" y="1719.72" width="12.6" height="12.6"/>
<rect x="626.01" y="1726.40" width="12.6" height="12.6"/>
<rect x="632.84" y="1735.36" width="12.6" height="12.6"/>
<rect x="639.66" y="1746.52" width="12.6" height="12.6"/>
<rect x="646.49" y="1759.76" width="12.6" height="12.6"/>
<rect x="653.32" y="1774.96" width="12.6" height="12.6"/>
<rect x="660.15" y="1791.97" width="12.6" height="12.6"/>
<rect x="666.98" y="1810.63" width="12.6" height="12.6"/>
<rect x="673.81" y="1830.75" width="12.6" height="12.6"/>
<rect x="680.64" y="1852.13" width="12.6" height="12.6"/>
<rect x="687.46" y="1874.57" width="12.6" height="12.6"/>
<rect x="694.29" y="1897.84" width="12.6" height="12.6"/>
<rect x="701.12" y="1921.73" width="12.6" height="12.6"/>
<rect x="707.95" y="1945.99" width="12.6" height="12.6"/>
<rect x="714.78" y="1970.40" width="12.6" height="12.6"/>
<rect x="721.61" y="1994.70" width="12.6" height="12.6"/>
<rect x="728.43" y="2018.68" width="12.6" height="12.6"/>
<rect x="735.26" y="2042.08" width="12.6" height="12.6"/>
<rect x="742.09" y="2064.69" width="12.6" height="12.6"/>
<rect x="748.92" y="2086.27" width="12.6" height="12.6"/>
<rect x="755.75" y="2106.63" width="12.6" height="12.6"/>
<rect x="762.58" y="2125.57" width="12.6" height="12.6"/>
<rect x="769.41" y="2142.89" width="12.6" height="12.6"/>
<rect x="776.23" y="2158.43" width="12.6" height="12.6"/>
<rect x="783.06" y="2172.04" width="12.6" height="12.6"/>
<rect x="789.89" y="2183.58" width="12.6" height="12.6"/>
<rect x="796.72" y="2192.95" width="12.6" height="12.6"/>
<rect x="803.55" y="2200.05" width="12.6" height="12.6"/>
<rect x="810.38" y="2204.80" width="12.6" height="12.6"/>
<rect x="817.21" y="2207.18" width="12.6" height="12.6"/>
<rect x="824.03" y="2207.14" width="12.6" height="12.6"/>
<rect x="830.86" y="2204.70" width="12.6" height="12.6"/>
<rect x="837.69" y="2199.87" width="12.6" height="12.6"/>
<rect x="844.52" y="2192.71" width="12.6" height="12.6"/>
<rect x="851.35" y="2183.28" width="12.6" height="12.6"/>
<rect x="858.18" y="2171.68" width="12.6" height="12.6"/>
<rect x="865.00" y="2158.01" width="12.6" height="12.6"/>
<rect x="871.83" y="2142.42" width="12.6" height="12.6"/>
<rect x="878.66" y="2125.05" width="12.6" height="12.6"/>
<rect x="885.49" y="2106.07" width="12.6" height="12.6"/>
<rect x="892.32" y="2085.67" width="12.6" height="12.6"/>
<rect x="899.15" y="2064.05" width="12.6" height="12.6"/>
<rect x="905.98" y="2041.42" width="12.6" height="12.6"/>
<rect x="912.80" y="2017.99" width="12.6" height="12.6"/>
<rect x="919.63" y="1994.01" width="12.6" height="12.6"/>
<rect x="926.46" y="1969.70" width="12.6" height="12.6"/>
<rect x="933.29" y="1945.29" width="12.6" height="12.6"/>
<rect x="940.12" y="1921.04" width="12.6" height="12.6"/>
<rect x="946.95" y="1897.16" width="12.6" height="12.6"/>
<rect x="953.78" y="1873.91" width="12.6" height="12.6"/>
<rect x="960.60" y="1851.50" width="12.6" height="12.6"/>
<rect x="967.43" y="1830.15" width="12.6" height="12.6"/>
<rect x="974.26" y="1810.07" width="12.6" height="12.6"/>
<rect x="981.09" y="1791.46" width="12.6" height="12.6"/>
<rect x="987.92" y="1774.50" width="12.6" height="12.6"/>
<rect x="994.75" y="1759.35" width="12.6" height="12.6"/>
<rect x="1001.57" y="1746.17" width="12.6" height="12.6"/>
<rect x="1008.40" y="1735.07" width="12.6" height="12.6"/>
<rect x="1015.23" y="1726.17" width="12.6" height="12.6"/>
<rect x="1022.06" y="1719.56" width="12.6" height="12.6"/>
<rect x="1028.89" y="1715.30" width="12.6" height="12.6"/>
<rect x="1035.72" y="1713.43" width="12.6" height="12.6"/>
<rect x="1042.55" y="1713.97" width="12.6" height="12.6"/>
<rect x="1049.37" y="1716.91" width="12.6" height="12.6"/>
<rect x="1056.20" y="1722.23" width="12.6" height="12.6"/>
<rect x="1063.03" y="1729.88" width="12.6" height="12.6"/>
<rect x="1069.86" y="1739.77" width="12.6" height="12.6"/>
<rect x="1076.69" y="1751.82" width="12.6" height="12.6"/>
<rect x="1083.52" y="1765.90" width="12.6" height="12.6"/>
<rect x="1090.35" y="1781.88" width="12.6" height="12.6"/>
<rect x="1097.17" y="1799.60" width="12.6" height="12.6"/>
<rect x="1104.00" y="1818.89" width="12.6" height="12.6"/>
<rect x="1110.83" y="1839.57" width="12.6" height="12.6"/>
<rect x="1117.66" y="1861.42" width="12.6" height="12.6"/>
<rect x="1124.49" y="1884.23" width="12.6" height="12.6"/>
<rect x="1131.32" y="1907.79" width="12.6" height="12.6"/>
<rect x="1138.14" y="1931.87" width="12.6" height="12.6"/>
<rect x="1144.97" y="1956.22" width="12.6" height="12.6"/>
<rect x="1151.80" y="1980.61" width="12.6" height="12.6"/>
<rect x="1158.63" y="2004.81" width="12.6" height="12.6"/>
<rect x="1165.46" y="2028.57" width="12.6" height="12.6"/>
<rect x="1172.29" y="2051.66" width="12.6" height="12.6"/>
<rect x="1179.12" y="2073.87" width="12.6" height="12.6"/>
<rect x="1185.94" y="2094.97" width="12.6" height="12.6"/>
<rect x="1192.77" y="2114.76" width="12.6" height="12.6"/>
<rect x="1199.60" y="2133.04" width="12.6" height="12.6"/>
<rect x="1206.43" y="2149.63" width="12.6" height="12.6"/>
<rect x="1213.26" y="2164.38" width="12.6" height="12.6"/>
<rect x="1220.09" y="2177.14" width="12.6" height="12.6"/>
<rect x="1226.92" y="2187.78" width="12.6" height="12.6"/>
<rect x="1233.74" y="2196.21" width="12.6" height="12.6"/>
<rect x="1240.57" y="2202.33" width="12.6" height="12.6"/>
<rect x="1247.40" y="2206.09" width="12.6" height="12.6"/>
<rect x="1254.23" y="2207.46" width="12.6" height="12.6"/>
<rect x="1261.06" y="2206.41" width="12.6" height="12.6"/>
<rect x="1267.89" y="2202.97" width="12.6" height="12.6"/>
<rect x="1274.71" y="2197.15" width="12.6" height="12.6"/>
<rect x="1281.54" y="2189.03" width="12.6" height="12.6"/>
<rect x="1288.37" y="2178.68" width="12.6" height="12.6"/>
<rect x="1295.20" y="2166.19" width="12.6" height="12.6"/>
<rect x="1302.03" y="2151.70" width="12.6" height="12.6"/>
<rect x="1308.86" y="2135.34" width="12.6" height="12.6"/>
<rect x="1315.69" y="2117.28" width="12.6" height="12.6"/>
<rect x="1322.51" y="2097.68" width="12.6" height="12.6"/>
<rect x="1329.34" y="2076.74" width="12.6" height="12.6"/>
<rect x="1336.17" y="2054.67" width="12.6" height="12.6"/>
<rect x="1343.00" y="2031.68" width="12.6" height="12.6"/>
<rect x="1349.83" y="2008.00" width="12.6" height="12.6"/>
<rect x="1356.66" y="1983.84" width="12.6" height="12.6"/>
<rect x="1363.49" y="1959.47" width="12.6" height="12.6"/>
<rect x="1370.31" y="1935.09" width="12.6" height="12.6"/>
<rect x="1377.14" y="1910.97" width="12.6" height="12.6"/>
<rect x="1383.97" y="1887.33" width="12.6" height="12.6"/>
<rect x="1390.80" y="1864.40" width="12.6" height="12.6"/>
<rect x="1397.63" y="1842.41" width="12.6" height="12.6"/>
<rect x="1404.46" y="1821.57" width="12.6" height="12.6"/>
<rect x="1411.28" y="1802.08" width="12.6" height="12.6"/>
<rect x="1418.11" y="1784.14" width="12.6" height="12.6"/>
<rect x="1424.94" y="1767.92" width="12.6" height="12.6"/>
<rect x="1431.77" y="1753.58" width="12.6" height="12.6"/>
<rect x="1438.60" y="1741.25" width="12.6" height="12.6"/>
<rect x="1445.43" y="1731.07" width="12.6" height="12.6"/>
<rect x="1452.26" y="1723.12" width="12.6" height="12.6"/>
<rect x="1459.08" y="1717.49" width="12.6" height="12.6"/>
<rect x="1465.91" y="1714.22" width="12.6" height="12.6"/>
<rect x="1472.74" y="1713.36" width="12.6" height="12.6"/>
<rect x="1479.57" y="1714.91" width="12.6" height="12.6"/>
<rect x="1486.40" y="1718.86" width="12.6" height="12.6"/>
<rect x="1493.23" y="1725.16" width="12.6" height="12.6"/>
<rect x="1500.06" y="1733.76" width="12.6" height="12.6"/>
<rect x="1506.88" y="1744.57" width="12.6" height="12.6"/>
<rect x="1513.71" y="1757.48" width="12.6" height="12.6"/>
<rect x="1520.54" y="1772.38" width="12.6" height="12.6"/>
<rect x="1527.37" y="1789.11" width="12.6" height="12.6"/>
<rect x="1534.20" y="1807.51" width="12.6" height="12.6"/>
<rect x="1541.03" y="1827.40" width="12.6" height="12.6"/>
<rect x="1547.85" y="1848.59" width="12.6" height="12.6"/>
<rect x="1554.68" y="1870.88" width="12.6" height="12.6"/>
<rect x="1561.51" y="1894.03" width="12.6" height="12.6"/>
<rect x="1568.34" y="1917.83" width="12.6" height="12.6"/>
<rect x="1575.17" y="1942.05" width="12.6" height="12.6"/>
<rect x="1582.00" y="1966.45" width="12.6" height="12.6"/>
<rect x="1588.83" y="1990.79" width="12.6" height="12.6"/>
<rect x="1595.65" y="2014.83" width="12.6" height="12.6"/>
<rect x="1602.48" y="2038.34" width="12.6" height="12.6"/>
<rect x="1609.31" y="2061.09" width="12.6" height="12.6"/>
<rect x="1616.14" y="2082.86" width="12.6" height="12.6"/>
<rect x="1622.97" y="2103.43" width="12.6" height="12.6"/>
<rect x="1629.80" y="2122.61" width="12.6" height="12.6"/>
<rect x="1636.63" y="2140.21" width="12.6" height="12.6"/>
<rect x="1643.45" y="2156.05" width="12.6" height="12.6"/>
<rect x="1650.28" y="2169.98" width="12.6" height="12.6"/>
<rect x="1657.11" y="2181.86" width="12.6" height="12.6"/>
<rect x="1663.94" y="2191.59" width="12.6" height="12.6"/>
<rect x="1670.77" y="2199.06" width="12.6" height="12.6"/>
<rect x="1677.60" y="2204.20" width="12.6" height="12.6"/>
<rect x="1684.42" y="2206.96" width="12.6" height="12.6"/>
<rect x="1691.25" y="2207.31" width="12.6" height="12.6"/>
<rect x="1698.08" y="2205.26" width="12.6" height="12.6"/>
<rect x="1704.91" y="2200.82" width="12.6" height="12.6"/>
<rect x="1711.74" y="2194.03" width="12.6" height="12.6"/>
<rect x="1718.57" y="2184.96" width="12.6" height="12.6"/>
<rect x="1725.40" y="2173.70" width="12.6" height="12.6"/>
<rect x="1732.22" y="2160.36" width="12.6" height="12.6"/>
<rect x="1739.05" y="2145.06" width="12.6" height="12.6"/>
<rect x="1745.88" y="2127.97" width="12.6" height="12.6"/>
<rect x="1752.71" y="2109.24" width="12.6" height="12.6"/>
<rect x="1759.54" y="2089.06" width="12.6" height="12.6"/>
<rect x="1766.37" y="2067.62" width="12.6" height="12.6"/>
<rect x="1773.20" y="2045.14" width="12.6" height="12.6"/>
<rect x="1780.02" y="2021.83" width="12.6" height="12.6"/>
<rect x="1786.85" y="1997.92" width="12.6" height="12.6"/>
<rect x="1793.68" y="1973.64" width="12.6" height="12.6"/>
<rect x="1800.51" y="1949.24" width="12.6" height="12.6"/>
<rect x="1807.34" y="1924.94" width="12.6" height="12.6"/>
<rect x="1814.17" y="1900.99" width="12.6" height="12.6"/>
<rect x="1820.99" y="1877.62" width="12.6" height="12.6"/>
<rect x="1827.82" y="1855.06" width="12.6" height="12.6"/>
<rect x="1834.65" y="1833.52" width="12.6" height="12.6"/>
<rect x="1841.48" y="1813.22" width="12.6" height="12.6"/>
<rect x="1848.31" y="1794.36" width="12.6" height="12.6"/>
<rect x="1855.14" y="1777.12" width="12.6" height="12.6"/>
<rect x="1861.97" y="1761.67" width="12.6" height="12.6"/>
</g></g>
<g clip-path="url(#bclip)">
<polyline points="501.20,1966.70 502.57,1971.29 509.39,1985.94 516.22,1990.40 523.05,1987.86 529.88,1980.22 536.71,1969.44 543.54,1957.20 550.37,1944.96 557.19,1933.61 564.02,1923.78 570.85,1915.87 577.68,1910.08 584.51,1906.48 591.34,1905.03 598.16,1905.80 604.99,1908.83 611.82,1913.96 618.65,1920.96 625.48,1929.57 632.31,1939.52 639.14,1950.52 645.96,1962.27 652.79,1974.39 659.62,1986.37 666.45,1998.20 673.28,2009.86 680.11,2021.33 686.94,2032.04 693.76,2041.71 700.59,2050.16 707.42,2057.22 714.25,2062.77 721.08,2066.70 727.91,2068.92 734.73,2069.38 741.56,2068.19 748.39,2065.53 755.22,2061.34 762.05,2055.54 768.88,2048.08 775.71,2038.94 782.53,2028.12 789.36,2015.62 796.19,2001.18 803.02,1985.17 809.85,1968.64 816.68,1952.07 823.51,1935.02 830.33,1917.66 837.16,1900.15 843.99,1882.67 850.82,1865.41 857.65,1848.52 864.48,1832.18 871.30,1816.60 878.13,1801.95 884.96,1788.42 891.79,1776.17 898.62,1765.35 905.45,1756.10 912.28,1748.55 919.10,1742.79 925.93,1738.91 932.76,1736.98 939.59,1737.04 946.42,1739.08 953.25,1743.07 960.08,1748.97 966.90,1756.75 973.73,1766.33 980.56,1777.63 987.39,1790.56 994.22,1804.99 1001.05,1820.79 1007.87,1837.82 1014.70,1855.93 1021.53,1874.93 1028.36,1894.69 1035.19,1915.00 1042.02,1935.64 1048.85,1956.41 1055.67,1976.92 1062.50,1996.29 1069.33,2014.63 1076.16,2032.24 1082.99,2049.39 1089.82,2066.38 1096.65,2084.61 1103.47,2102.90 1110.30,2117.74 1117.13,2129.51 1123.96,2139.26 1130.79,2147.03 1137.62,2152.86 1144.44,2156.81 1151.27,2158.98 1158.10,2159.46 1164.93,2158.37 1171.76,2155.68 1178.59,2151.27 1185.42,2145.02 1192.24,2136.85 1199.07,2126.69 1205.90,2114.48 1212.73,2099.72 1219.56,2082.96 1226.39,2065.63 1233.22,2048.34 1240.04,2030.71 1246.87,2012.58 1253.70,1993.80 1260.53,1974.24 1267.36,1953.36 1274.19,1930.21 1281.01,1906.42 1287.84,1883.82 1294.67,1864.08 1301.50,1846.28 1308.33,1829.86 1315.16,1814.90 1321.99,1801.48 1328.81,1789.66 1335.64,1779.50 1342.47,1771.02 1349.30,1764.25 1356.13,1759.18 1362.96,1755.80 1369.79,1754.07 1376.61,1753.94 1383.44,1755.58 1390.27,1759.06 1397.10,1764.39 1403.93,1771.55 1410.76,1780.48 1417.58,1791.14 1424.41,1803.45 1431.24,1817.30 1438.07,1832.61 1444.90,1849.23 1451.73,1867.06 1458.56,1886.14 1465.38,1906.43 1472.21,1927.51 1479.04,1948.93 1485.87,1970.29 1492.70,1991.63 1499.53,2012.77 1506.36,2033.29 1513.18,2052.77 1520.01,2070.77 1526.84,2086.81 1533.67,2101.18 1540.50,2114.36 1547.33,2126.27 1554.15,2136.51 1560.98,2145.01 1567.81,2151.76 1574.64,2156.75 1581.47,2159.99 1588.30,2161.51 1595.13,2161.34 1601.95,2159.40 1608.78,2155.63 1615.61,2150.00 1622.44,2142.48 1629.27,2133.07 1636.10,2121.79 1642.93,2108.63 1649.75,2093.59 1656.58,2077.18 1663.41,2059.99 1670.24,2042.54 1677.07,2024.76 1683.90,2006.46 1690.72,1987.49 1697.55,1967.67 1704.38,1946.59 1711.21,1924.49 1718.04,1902.42 1724.87,1881.39 1731.70,1862.51 1738.52,1846.68 1745.35,1832.60 1752.18,1818.52 1759.01,1804.06 1765.84,1790.56 1772.67,1778.69 1779.50,1769.10 1786.32,1762.14 1793.15,1757.52 1799.98,1754.95 1806.81,1754.12 1813.64,1754.62 1820.47,1756.05 1827.29,1758.83 1834.12,1763.46 1840.95,1770.42 1847.78,1779.55 1854.61,1790.46 1861.44,1803.07 1868.27,1815.67" fill="none" stroke="#ff0000" stroke-width="5.4" stroke-linejoin="round"/>
<g fill="#ff0000">
<circle cx="502.57" cy="1971.29" r="6.9"/>
<circle cx="509.39" cy="1985.94" r="6.9"/>
<circle cx="516.22" cy="1990.40" r="6.9"/>
<circle cx="523.05" cy="1987.86" r="6.9"/>
<circle cx="529.88" cy="1980.22" r="6.9"/>
<circle cx="536.71" cy="1969.44" r="6.9"/>
<circle cx="543.54" cy="1957.20" r="6.9"/>
<circle cx="550.37" cy="1944.96" r="6.9"/>
<circle cx="557.19" cy="1933.61" r="6.9"/>
<circle cx="564.02" cy="1923.78" r="6.9"/>
<circle cx="570.85" cy="1915.87" r="6.9"/>
<circle cx="577.68" cy="1910.08" r="6.9"/>
<circle cx="584.51" cy="1906.48" r="6.9"/>
<circle cx="591.34" cy="1905.03" r="6.9"/>
<circle cx="598.16" cy="1905.80" r="6.9"/>
<circle cx="604.99" cy="1908.83" r="6.9"/>
<circle cx="611.82" cy="1913.96" r="6.9"/>
<circle cx="618.65" cy="1920.96" r="6.9"/>
<circle cx="625.48" cy="1929.57" r="6.9"/>
<circle cx="632.31" cy="1939.52" r="6.9"/>
<circle cx="639.14" cy="1950.52" r="6.9"/>
<circle cx="645.96" cy="1962.27" r="6.9"/>
<circle cx="652.79" cy="1974.39" r="6.9"/>
<circle cx="659.62" cy="1986.37" r="6.9"/>
<circle cx="666.45" cy="1998.20" r="6.9"/>
<circle cx="673.28" cy="2009.86" r="6.9"/>
<circle cx="680.11" cy="2021.33" r="6.9"/>
<circle cx="686.94" cy="2032.04" r="6.9"/>
<circle cx="693.76" cy="2041.71" r="6.9"/>
<circle cx="700.59" cy="2050.16" r="6.9"/>
<circle cx="707.42" cy="2057.22" r="6.9"/>
<circle cx="714.25" cy="2062.77" r="6.9"/>
<circle cx="721.08" cy="2066.70" r="6.9"/>
<circle cx="727.91" cy="2068.92" r="6.9"/>
<circle cx="734.73" cy="2069.38" r="6.9"/>
<circle cx="741.56" cy="2068.19" r="6.9"/>
<circle cx="748.39" cy="2065.53" r="6.9"/>
<circle cx="755.22" cy="2061.34" r="6.9"/>
<circle cx="762.05" cy="2055.54" r="6.9"/>
<circle cx="768.88" cy="2048.08" r="6.9"/>
<circle cx="775.71" cy="2038.94" r="6.9"/>
<circle cx="782.53" cy="2028.12" r="6.9"/>
<circle cx="789.36" cy="2015.62" r="6.9"/>
<circle cx="796.19" cy="2001.18" r="6.9"/>
<circle cx="803.02" cy="1985.17" r="6.9"/>
<circle cx="809.85" cy="1968.64" r="6.9"/>
<circle cx="816.68" cy="1952.07" r="6.9"/>
<circle cx="823.51" cy="1935.02" r="6.9"/>
<circle cx="830.33" cy="1917.66" r="6.9"/>
<circle cx="837.16" cy="1900.15" r="6.9"/>
<circle cx="843.99" cy="1882.67" r="6.9"/>
<circle cx="850.82" cy="1865.41" r="6.9"/>
<circle cx="857.65" cy="1848.52" r="6.9"/>
<circle cx="864.48" cy="1832.18" r="6.9"/>
<circle cx="871.30" cy="1816.60" r="6.9"/>
<circle cx="878.13" cy="1801.95" r="6.9"/>
<circle cx="884.96" cy="1788.42" r="6.9"/>
<circle cx="891.79" cy="1776.17" r="6.9"/>
<circle cx="898.62" cy="1765.35" r="6.9"/>
<circle cx="905.45" cy="1756.10" r="6.9"/>
<circle cx="912.28" cy="1748.55" r="6.9"/>
<circle cx="919.10" cy="1742.79" r="6.9"/>
<circle cx="925.93" cy="1738.91" r="6.9"/>
<circle cx="932.76" cy="1736.98" r="6.9"/>
<circle cx="939.59" cy="1737.04" r="6.9"/>
<circle cx="946.42" cy="1739.08" r="6.9"/>
<circle cx="953.25" cy="1743.07" r="6.9"/>
<circle cx="960.08" cy="1748.97" r="6.9"/>
<circle cx="966.90" cy="1756.75" r="6.9"/>
<circle cx="973.73" cy="1766.33" r="6.9"/>
<circle cx="980.56" cy="1777.63" r="6.9"/>
<circle cx="987.39" cy="1790.56" r="6.9"/>
<circle cx="994.22" cy="1804.99" r="6.9"/>
<circle cx="1001.05" cy="1820.79" r="6.9"/>
<circle cx="1007.87" cy="1837.82" r="6.9"/>
<circle cx="1014.70" cy="1855.93" r="6.9"/>
<circle cx="1021.53" cy="1874.93" r="6.9"/>
<circle cx="1028.36" cy="1894.69" r="6.9"/>
<circle cx="1035.19" cy="1915.00" r="6.9"/>
<circle cx="1042.02" cy="1935.64" r="6.9"/>
<circle cx="1048.85" cy="1956.41" r="6.9"/>
<circle cx="1055.67" cy="1976.92" r="6.9"/>
<circle cx="1062.50" cy="1996.29" r="6.9"/>
<circle cx="1069.33" cy="2014.63" r="6.9"/>
<circle cx="1076.16" cy="2032.24" r="6.9"/>
<circle cx="1082.99" cy="2049.39" r="6.9"/>
<circle cx="1089.82" cy="2066.38" r="6.9"/>
<circle cx="1096.65" cy="2084.61" r="6.9"/>
<circle cx="1103.47" cy="2102.90" r="6.9"/>
<circle cx="1110.30" cy="2117.74" r="6.9"/>
<circle cx="1117.13" cy="2129.51" r="6.9"/>
<circle cx="1123.96" cy="2139.26" r="6.9"/>
<circle cx="1130.79" cy="2147.03" r="6.9"/>
<circle cx="1137.62" cy="2152.86" r="6.9"/>
<circle cx="1144.44" cy="2156.81" r="6.9"/>
<circle cx="1151.27" cy="2158.98" r="6.9"/>
<circle cx="1158.10" cy="2159.46" r="6.9"/>
<circle cx="1164.93" cy="2158.37" r="6.9"/>
<circle cx="1171.76" cy="2155.68" r="6.9"/>
<circle cx="1178.59" cy="2151.27" r="6.9"/>
<circle cx="1185.42" cy="2145.02" r="6.9"/>
<circle cx="1192.24" cy="2136.85" r="6.9"/>
<circle cx="1199.07" cy="2126.69" r="6.9"/>
<circle cx="1205.90" cy="2114.48" r="6.9"/>
<circle cx="1212.73" cy="2099.72" r="6.9"/>
<circle cx="1219.56" cy="2082.96" r="6.9"/>
<circle cx="1226.39" cy="2065.63" r="6.9"/>
<circle cx="1233.22" cy="2048.34" r="6.9"/>
<circle cx="1240.04" cy="2030.71" r="6.9"/>
<circle cx="1246.87" cy="2012.58" r="6.9"/>
<circle cx="1253.70" cy="1993.80" r="6.9"/>
<circle cx="1260.53" cy="1974.24" r="6.9"/>
<circle cx="1267.36" cy="1953.36" r="6.9"/>
<circle cx="1274.19" cy="1930.21" r="6.9"/>
<circle cx="1281.01" cy="1906.42" r="6.9"/>
<circle cx="1287.84" cy="1883.82" r="6.9"/>
<circle cx="1294.67" cy="1864.08" r="6.9"/>
<circle cx="1301.50" cy="1846.28" r="6.9"/>
<circle cx="1308.33" cy="1829.86" r="6.9"/>
<circle cx="1315.16" cy="1814.90" r="6.9"/>
<circle cx="1321.99" cy="1801.48" r="6.9"/>
<circle cx="1328.81" cy="1789.66" r="6.9"/>
<circle cx="1335.64" cy="1779.50" r="6.9"/>
<circle cx="1342.47" cy="1771.02" r="6.9"/>
<circle cx="1349.30" cy="1764.25" r="6.9"/>
<circle cx="1356.13" cy="1759.18" r="6.9"/>
<circle cx="1362.96" cy="1755.80" r="6.9"/>
<circle cx="1369.79" cy="1754.07" r="6.9"/>
<circle cx="1376.61" cy="1753.94" r="6.9"/>
<circle cx="1383.44" cy="1755.58" r="6.9"/>
<circle cx="1390.27" cy="1759.06" r="6.9"/>
<circle cx="1397.10" cy="1764.39" r="6.9"/>
<circle cx="1403.93" cy="1771.55" r="6.9"/>
<circle cx="1410.76" cy="1780.48" r="6.9"/>
<circle cx="1417.58" cy="1791.14" r="6.9"/>
<circle cx="1424.41" cy="1803.45" r="6.9"/>
<circle cx="1431.24" cy="1817.30" r="6.9"/>
<circle cx="1438.07" cy="1832.61" r="6.9"/>
<circle cx="1444.90" cy="1849.23" r="6.9"/>
<circle cx="1451.73" cy="1867.06" r="6.9"/>
<circle cx="1458.56" cy="1886.14" r="6.9"/>
<circle cx="1465.38" cy="1906.43" r="6.9"/>
<circle cx="1472.21" cy="1927.51" r="6.9"/>
<circle cx="1479.04" cy="1948.93" r="6.9"/>
<circle cx="1485.87" cy="1970.29" r="6.9"/>
<circle cx="1492.70" cy="1991.63" r="6.9"/>
<circle cx="1499.53" cy="2012.77" r="6.9"/>
<circle cx="1506.36" cy="2033.29" r="6.9"/>
<circle cx="1513.18" cy="2052.77" r="6.9"/>
<circle cx="1520.01" cy="2070.77" r="6.9"/>
<circle cx="1526.84" cy="2086.81" r="6.9"/>
<circle cx="1533.67" cy="2101.18" r="6.9"/>
<circle cx="1540.50" cy="2114.36" r="6.9"/>
<circle cx="1547.33" cy="2126.27" r="6.9"/>
<circle cx="1554.15" cy="2136.51" r="6.9"/>
<circle cx="1560.98" cy="2145.01" r="6.9"/>
<circle cx="1567.81" cy="2151.76" r="6.9"/>
<circle cx="1574.64" cy="2156.75" r="6.9"/>
<circle cx="1581.47" cy="2159.99" r="6.9"/>
<circle cx="1588.30" cy="2161.51" r="6.9"/>
<circle cx="1595.13" cy="2161.34" r="6.9"/>
<circle cx="1601.95" cy="2159.40" r="6.9"/>
<circle cx="1608.78" cy="2155.63" r="6.9"/>
<circle cx="1615.61" cy="2150.00" r="6.9"/>
<circle cx="1622.44" cy="2142.48" r="6.9"/>
<circle cx="1629.27" cy="2133.07" r="6.9"/>
<circle cx="1636.10" cy="2121.79" r="6.9"/>
<circle cx="1642.93" cy="2108.63" r="6.9"/>
<circle cx="1649.75" cy="2093.59" r="6.9"/>
<circle cx="1656.58" cy="2077.18" r="6.9"/>
<circle cx="1663.41" cy="2059.99" r="6.9"/>
<circle cx="1670.24" cy="2042.54" r="6.9"/>
<circle cx="1677.07" cy="2024.76" r="6.9"/>
<circle cx="1683.90" cy="2006.46" r="6.9"/>
<circle cx="1690.72" cy="1987.49" r="6.9"/>
<circle cx="1697.55" cy="1967.67" r="6.9"/>
<circle cx="1704.38" cy="1946.59" r="6.9"/>
<circle cx="1711.21" cy="1924.49" r="6.9"/>
<circle cx="1718.04" cy="1902.42" r="6.9"/>
<circle cx="1724.87" cy="1881.39" r="6.9"/>
<circle cx="1731.70" cy="1862.51" r="6.9"/>
<circle cx="1738.52" cy="1846.68" r="6.9"/>
<circle cx="1745.35" cy="1832.60" r="6.9"/>
<circle cx="1752.18" cy="1818.52" r="6.9"/>
<circle cx="1759.01" cy="1804.06" r="6.9"/>
<circle cx="1765.84" cy="1790.56" r="6.9"/>
<circle cx="1772.67" cy="1778.69" r="6.9"/>
<circle cx="1779.50" cy="1769.10" r="6.9"/>
<circle cx="1786.32" cy="1762.14" r="6.9"/>
<circle cx="1793.15" cy="1757.52" r="6.9"/>
<circle cx="1799.98" cy="1754.95" r="6.9"/>
<circle cx="1806.81" cy="1754.12" r="6.9"/>
<circle cx="1813.64" cy="1754.62" r="6.9"/>
<circle cx="1820.47" cy="1756.05" r="6.9"/>
<circle cx="1827.29" cy="1758.83" r="6.9"/>
<circle cx="1834.12" cy="1763.46" r="6.9"/>
<circle cx="1840.95" cy="1770.42" r="6.9"/>
<circle cx="1847.78" cy="1779.55" r="6.9"/>
<circle cx="1854.61" cy="1790.46" r="6.9"/>
<circle cx="1861.44" cy="1803.07" r="6.9"/>
<circle cx="1868.27" cy="1815.67" r="6.9"/>
</g></g>
<g stroke="#000" stroke-width="4.5" fill="none">
<line x1="431.50" y1="1571.4" x2="1869.15" y2="1571.4"/>
<line x1="431.50" y1="2362.0" x2="1866.90" y2="2362.0"/>
<line x1="501.2" y1="1571.4" x2="501.2" y2="2431.70"/>
<line x1="1866.9" y1="1571.4" x2="1866.9" y2="2431.70"/>
<line x1="431.50" y1="2263.18" x2="501.2" y2="2263.18"/>
<line x1="431.50" y1="2164.35" x2="501.2" y2="2164.35"/>
<line x1="431.50" y1="2065.53" x2="501.2" y2="2065.53"/>
<line x1="431.50" y1="1966.70" x2="501.2" y2="1966.70"/>
<line x1="431.50" y1="1867.88" x2="501.2" y2="1867.88"/>
<line x1="431.50" y1="1769.05" x2="501.2" y2="1769.05"/>
<line x1="431.50" y1="1670.23" x2="501.2" y2="1670.23"/>
<line x1="464.40" y1="2312.59" x2="501.2" y2="2312.59"/>
<line x1="464.40" y1="2213.76" x2="501.2" y2="2213.76"/>
<line x1="464.40" y1="2114.94" x2="501.2" y2="2114.94"/>
<line x1="464.40" y1="2016.11" x2="501.2" y2="2016.11"/>
<line x1="464.40" y1="1917.29" x2="501.2" y2="1917.29"/>
<line x1="464.40" y1="1818.46" x2="501.2" y2="1818.46"/>
<line x1="464.40" y1="1719.64" x2="501.2" y2="1719.64"/>
<line x1="464.40" y1="1620.81" x2="501.2" y2="1620.81"/>
<line x1="842.62" y1="2362.0" x2="842.62" y2="2431.70"/>
<line x1="1184.05" y1="2362.0" x2="1184.05" y2="2431.70"/>
<line x1="1525.48" y1="2362.0" x2="1525.48" y2="2431.70"/>
<line x1="671.91" y1="2362.0" x2="671.91" y2="2398.80"/>
<line x1="1013.34" y1="2362.0" x2="1013.34" y2="2398.80"/>
<line x1="1354.76" y1="2362.0" x2="1354.76" y2="2398.80"/>
<line x1="1696.19" y1="2362.0" x2="1696.19" y2="2398.80"/>
</g>
<line x1="881.5" y1="2182.7" x2="1051.2" y2="2182.7" stroke="#000080" stroke-width="5.6"/>
<rect x="959.5" y="2176.2999999999997" width="12.8" height="12.8" fill="#000080"/>
<line x1="881.5" y1="2300.2" x2="1051.2" y2="2300.2" stroke="#ff0000" stroke-width="5.6"/>
<circle cx="965.9" cy="2300.2" r="6.9" fill="#ff0000"/>
<g font-family='"Liberation Sans", Arial, Helvetica, sans-serif' fill="#000">
<text transform="translate(1080.70,2208.50) skewX(-18) scale(1.0,1.03)" text-anchor="middle" font-size="76.5" stroke="#fff" stroke-width="0.5" stroke-linejoin="round">I</text>
<text transform="translate(1090.50,2236.20) scale(1.0,1.03)" text-anchor="start" font-size="45" stroke="#fff" stroke-width="0.5" stroke-linejoin="round">IN</text>
<text transform="translate(1080.70,2325.70) skewX(-18) scale(1.0,1.03)" text-anchor="middle" font-size="76.5" stroke="#fff" stroke-width="0.5" stroke-linejoin="round">I</text>
<text transform="translate(1090.50,2353.20) scale(1.0,1.03)" text-anchor="start" font-size="45" stroke="#fff" stroke-width="0.5" stroke-linejoin="round">AP</text>
</g>
<g font-family='"Liberation Sans", Arial, Helvetica, sans-serif' font-size="92" fill="#000">
<text transform="translate(386.00,2385.50) scale(1.0,1.03)" text-anchor="end" font-size="92" stroke="#fff" stroke-width="0.5" stroke-linejoin="round">-80</text>
<text transform="translate(386.00,2286.68) scale(1.0,1.03)" text-anchor="end" font-size="92" stroke="#fff" stroke-width="0.5" stroke-linejoin="round">-60</text>
<text transform="translate(386.00,2187.85) scale(1.0,1.03)" text-anchor="end" font-size="92" stroke="#fff" stroke-width="0.5" stroke-linejoin="round">-40</text>
<text transform="translate(386.00,2089.03) scale(1.0,1.03)" text-anchor="end" font-size="92" stroke="#fff" stroke-width="0.5" stroke-linejoin="round">-20</text>
<text transform="translate(386.00,1990.20) scale(1.0,1.03)" text-anchor="end" font-size="92" stroke="#fff" stroke-width="0.5" stroke-linejoin="round">0</text>
<text transform="translate(386.00,1891.38) scale(1.0,1.03)" text-anchor="end" font-size="92" stroke="#fff" stroke-width="0.5" stroke-linejoin="round">20</text>
<text transform="translate(386.00,1792.55) scale(1.0,1.03)" text-anchor="end" font-size="92" stroke="#fff" stroke-width="0.5" stroke-linejoin="round">40</text>
<text transform="translate(386.00,1693.73) scale(1.0,1.03)" text-anchor="end" font-size="92" stroke="#fff" stroke-width="0.5" stroke-linejoin="round">60</text>
<text transform="translate(386.00,1594.90) scale(1.0,1.03)" text-anchor="end" font-size="92" stroke="#fff" stroke-width="0.5" stroke-linejoin="round">80</text>
<text transform="translate(500.90,2549.20) scale(0.99,1.03)" text-anchor="middle" font-size="92" stroke="#fff" stroke-width="0.5" stroke-linejoin="round">0.0</text>
<text transform="translate(842.62,2549.20) scale(0.99,1.03)" text-anchor="middle" font-size="92" stroke="#fff" stroke-width="0.5" stroke-linejoin="round">0.5</text>
<g transform="translate(1184.05,2549.20) scale(0.99,1.03)">
<text text-anchor="middle" font-size="92" stroke="#fff" stroke-width="0.5" stroke-linejoin="round">1.0</text>
<rect x="-58.56" y="-7.64" width="17.74" height="8.54" fill="#fff"/>
<rect x="-32.68" y="-7.64" width="17.03" height="8.54" fill="#fff"/>
</g>
<g transform="translate(1525.48,2549.20) scale(0.99,1.03)">
<text text-anchor="middle" font-size="92" stroke="#fff" stroke-width="0.5" stroke-linejoin="round">1.5</text>
<rect x="-58.56" y="-7.64" width="17.74" height="8.54" fill="#fff"/>
<rect x="-32.68" y="-7.64" width="17.03" height="8.54" fill="#fff"/>
</g>
<text transform="translate(1866.90,2549.20) scale(0.99,1.03)" text-anchor="middle" font-size="92" stroke="#fff" stroke-width="0.5" stroke-linejoin="round">2.0</text>
<text transform="translate(1184.20,2672.00) scale(1.0,1.03)" text-anchor="middle" font-size="92" stroke="#fff" stroke-width="0.5" stroke-linejoin="round">Time (µs)</text>
<text transform="translate(96.00,1915.50) rotate(-90) scale(0.995,1.03)" text-anchor="middle" font-size="92" stroke="#fff" stroke-width="0.5" stroke-linejoin="round">Currents (µA)</text>
</g>
</g>
<text y="2815.6" font-family='"Liberation Serif", "DejaVu Serif", serif' font-size="86" fill="#000"><tspan x="920.1">(</tspan><tspan x="948.3" font-size="89.5" font-weight="bold">b</tspan><tspan x="998.15">)</tspan></text>
</svg>
</body>
</html>
